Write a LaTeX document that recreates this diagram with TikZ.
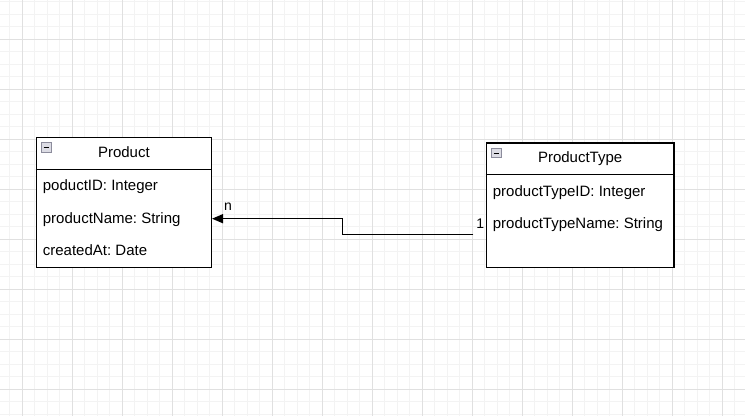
\documentclass[tikz,border=0pt]{standalone}
\usepackage{fontspec}
\setmainfont{Liberation Sans}
\usetikzlibrary{arrows.meta,calc}
\definecolor{gridminor}{HTML}{F3F3F3}
\definecolor{gridmajor}{HTML}{E0E0E0}
\definecolor{iconborder}{HTML}{8C8C9C}
\definecolor{iconfill}{HTML}{DCDCE4}
\tikzset{
  classbox/.style={draw=black, line width=1.3pt, rectangle, inner sep=0pt, anchor=north west, fill=white},
  sepline/.style={draw=black, line width=1.3pt},
  attr/.style={anchor=base west, inner sep=0pt, font=\fontsize{15}{18}\selectfont},
  title/.style={anchor=base, inner sep=0pt, font=\fontsize{15}{18}\selectfont},
  elabel/.style={anchor=base west, inner sep=0pt, font=\fontsize{14}{16}\selectfont},
  conn/.style={draw=black, line width=1.3pt, -{Triangle[length=11pt,width=9pt]}},
  iconbox/.style={draw=iconborder, fill=iconfill, line width=0.8pt},
}
\begin{document}
\frenchspacing
\begin{tikzpicture}[x=1pt,y=-1pt]
\useasboundingbox (0,0) rectangle (745,416);
\fill[white] (0,0) rectangle (745,416);
% grid
\foreach \i in {0,...,59} {
  \draw[gridminor, line width=0.8pt] ({9.8+12.5*\i},0) -- ({9.8+12.5*\i},416);
}
\foreach \j in {0,...,33} {
  \draw[gridminor, line width=0.8pt] (0,{1.8+12.5*\j}) -- (745,{1.8+12.5*\j});
}
\foreach \i in {0,...,14} {
  \draw[gridmajor, line width=0.8pt] ({22.3+50*\i},0) -- ({22.3+50*\i},416);
}
\foreach \j in {0,...,7} {
  \draw[gridmajor, line width=0.8pt] (0,{39.3+50*\j}) -- (745,{39.3+50*\j});
}

% Product class
\node[classbox, minimum width=175pt, minimum height=130pt] (prod) at (35.7,136.7) {};
\draw[sepline] ($(prod.north west)+(0,33)$) -- ($(prod.north east)+(0,33)$);
\draw[iconbox] ($(prod.north west)+(5.5,6)$) rectangle ++(10.5,10);
\draw[black, line width=1pt] ($(prod.north west)+(8,11)$) -- ++(5.5,0);
\node[title] (prodtitle) at ($(prod.north)+(0,20.6)$) {Product};
\node[attr] (prodid) at ($(prod.north west)+(7,54)$) {poductID: Integer};
\node[attr] (prodname) at ($(prod.north west)+(7,87)$) {productName: String};
\node[attr] (prodcreated) at ($(prod.north west)+(7,118.5)$) {createdAt: Date};

% ProductType class
\node[classbox, minimum width=187.6pt, minimum height=124.4pt] (ptype) at (485.7,142.3) {};
\draw[sepline] ($(ptype.north west)+(0,32)$) -- ($(ptype.north east)+(0,32)$);
\draw[iconbox] ($(ptype.north west)+(5.5,6)$) rectangle ++(10.5,9.5);
\draw[black, line width=1pt] ($(ptype.north west)+(8,10.8)$) -- ++(5.5,0);
\node[title] (ptypetitle) at ($(ptype.north)+(0,20)$) {ProductType};
\node[attr] (ptypeid) at ($(ptype.north west)+(7,53.7)$) {productTypeID: Integer};
\node[attr] (ptypename) at ($(ptype.north west)+(7,86.4)$) {productTypeName: String};

% connector
\coordinate (src) at ($(ptype.north west)+(-12.4,92)$);
\coordinate (dst) at ($(prod.north east)+(0,82)$);
\draw[conn] (src) -- (342.3,234.3) |- (dst);
\node[elabel] (lbln) at (223.8,210.3) {n};
\node[elabel] (lbl1) at (476.2,228) {1};
\end{tikzpicture}
\end{document}
